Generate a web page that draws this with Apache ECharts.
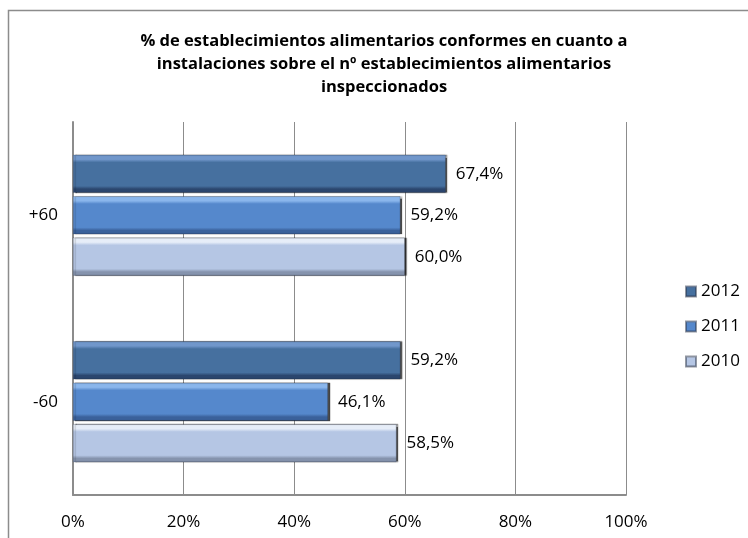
<!DOCTYPE html>
<html>
<head>
<meta charset="utf-8">
<script src="https://cdn.jsdelivr.net/npm/echarts@6/dist/echarts.min.js"></script>
<style>html,body{margin:0;padding:0;background:#fff;}#c{width:748px;height:538px;}</style>
</head>
<body>
<div id="c"></div>
<script>
var categories = ['-60', '+60'];
var years = ['2012', '2011', '2010'];
var values2010 = [58.5, 60.0];
var values2011 = [46.1, 59.2];
var values2012 = [59.2, 67.4];
var xTicks = [0, 20, 40, 60, 80, 100];

var FONT = 'Open Sans, Noto Sans, sans-serif';
function grad(top, mid, bot) {
  return new echarts.graphic.LinearGradient(0, 0, 0, 1, [
    {offset: 0, color: top}, {offset: 0.12, color: top},
    {offset: 0.2, color: mid}, {offset: 0.82, color: mid},
    {offset: 0.9, color: bot}, {offset: 1, color: bot}
  ]);
}
var styles = {
  '2010': {fill: grad('#e6edf8', '#b5c6e4', '#8593ad')},
  '2011': {fill: grad('#8ab6ec', '#5588cc', '#3a619b')},
  '2012': {fill: grad('#7197cb', '#46709f', '#2b466e')}
};
var dataBy = {'2010': values2010, '2011': values2011, '2012': values2012};

function fmt(p) { return p.value.toFixed(1).replace('.', ',') + '%'; }

var series = years.map(function (y) {
  return {
    name: y, type: 'bar', data: dataBy[y],
    barWidth: 38, barGap: '9%',
    itemStyle: {color: styles[y].fill, borderColor: 'rgba(40,50,70,0.5)', borderWidth: 0.5,
      shadowColor: 'rgba(0,0,0,0.7)', shadowOffsetX: 2, shadowOffsetY: 0, shadowBlur: 1},
    label: {show: true, position: 'right', distance: 10, color: '#000', fontFamily: FONT, fontSize: 17, formatter: fmt},
    emphasis: {disabled: true}
  };
});

var chart = echarts.init(document.getElementById('c'));
chart.setOption({
  animation: false,
  title: {
    text: '% de establecimientos alimentarios conformes en cuanto a\ninstalaciones sobre el nº establecimientos alimentarios\ninspeccionados',
    left: 379, top: 25, textAlign: 'center',
    textStyle: {fontFamily: FONT, fontWeight: 'bold', fontSize: 16.5, lineHeight: 23, color: '#000'}
  },
  graphic: [{type: 'rect', shape: {x: 8.5, y: 10.5, width: 800, height: 600}, style: {fill: 'none', stroke: '#8c8c8c', lineWidth: 1.5}, z: -1}],
  legend: {
    data: ['2012', '2011', '2010'], orient: 'vertical', left: 680, top: 278, itemGap: 18,
    itemWidth: 10, itemHeight: 10, icon: 'rect',
    textStyle: {fontFamily: FONT, fontSize: 17, color: '#000'}
  },
  grid: {left: 73, right: 122, top: 122, bottom: 43, containLabel: false},
  xAxis: {
    type: 'value', min: 0, max: 100, interval: 20,
    axisLabel: {formatter: '{value}%', fontFamily: FONT, fontSize: 17, color: '#000', margin: 19},
    axisLine: {show: true, lineStyle: {color: '#8c8c8c', width: 2}},
    axisTick: {show: false},
    splitLine: {show: true, lineStyle: {color: '#8c8c8c', width: 1}}
  },
  yAxis: {
    type: 'category', data: categories,
    axisLabel: {fontFamily: FONT, fontSize: 17, color: '#000', margin: 15},
    axisLine: {show: true, lineStyle: {color: '#8c8c8c', width: 2}},
    axisTick: {show: false}
  },
  series: series
});
</script>
</body>
</html>
